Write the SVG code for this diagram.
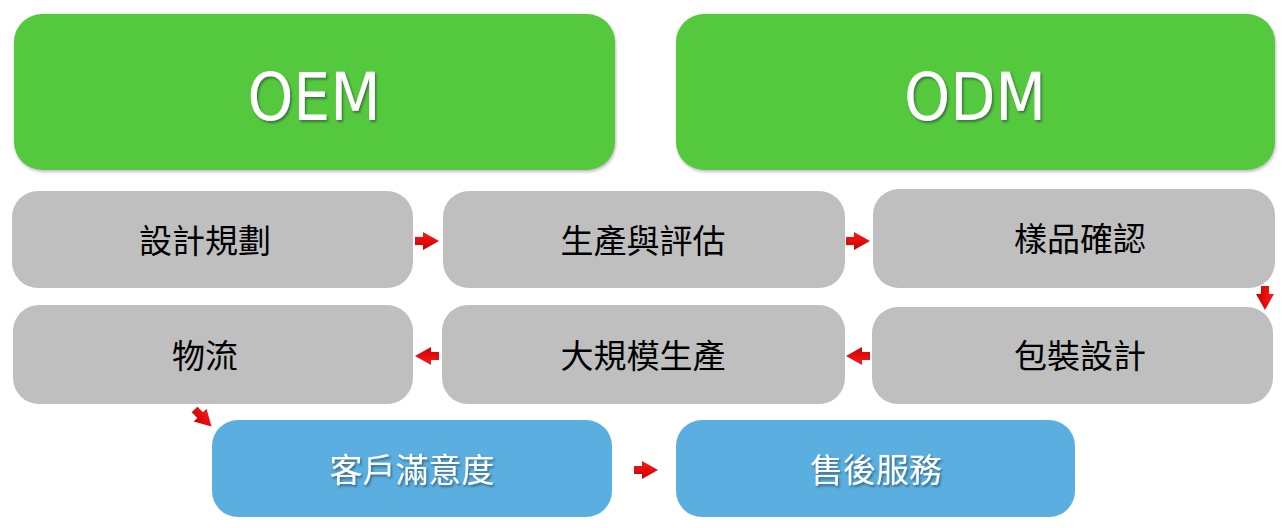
<svg xmlns="http://www.w3.org/2000/svg" width="1285" height="528" viewBox="0 0 1285 528">
<defs>
<filter id="sh" x="-5%" y="-10%" width="110%" height="125%"><feDropShadow dx="1" dy="2" stdDeviation="1.5" flood-color="#806080" flood-opacity="0.45"/></filter>
<filter id="tsh" x="-10%" y="-20%" width="120%" height="150%"><feDropShadow dx="1.5" dy="2" stdDeviation="1" flood-color="#203040" flood-opacity="0.55"/></filter>
<linearGradient id="rg" x1="0" y1="0" x2="0" y2="1"><stop offset="0" stop-color="#ff1a1a"/><stop offset="1" stop-color="#c80000"/></linearGradient>
<path id="arr" d="M-12,-4 L-4,-4 L-4,-9 L12,0 L-4,9 L-4,4 L-12,4 Z" fill="url(#rg)"/>
</defs>
<style>
.g{fill:#55c93d}
.gr{fill:#bfbfbf}
.b{fill:#5aafe0}
.big{font-family:"DejaVu Sans Condensed","DejaVu Sans",sans-serif;font-size:66px;fill:#fff;text-anchor:middle}
.t{font-family:"Noto Sans CJK TC","Noto Sans CJK SC",sans-serif;font-size:33px;fill:#000;text-anchor:middle;dominant-baseline:central}
.w{font-family:"Noto Sans CJK TC","Noto Sans CJK SC",sans-serif;font-size:33px;fill:#fff;text-anchor:middle;dominant-baseline:central}
</style>
<rect width="1285" height="528" fill="#fff"/>
<g id="oem"><rect class="g" x="14" y="14" width="601" height="156" rx="28" filter="url(#sh)"/><text class="big" x="314" y="120" textLength="133" lengthAdjust="spacingAndGlyphs" filter="url(#tsh)">OEM</text></g>
<g id="odm"><rect class="g" x="676" y="14" width="599" height="156" rx="28" filter="url(#sh)"/><text class="big" x="975" y="120" textLength="142" lengthAdjust="spacingAndGlyphs" filter="url(#tsh)">ODM</text></g>
<g id="n1"><rect class="gr" x="12" y="191" width="401" height="97" rx="26"/><text class="t" x="205" y="239">設計規劃</text></g>
<g id="n2"><rect class="gr" x="443" y="191" width="402" height="97" rx="26"/><text class="t" x="643" y="239">生產與評估</text></g>
<g id="n3"><rect class="gr" x="873" y="189" width="402" height="99" rx="26"/><text class="t" x="1080" y="237">樣品確認</text></g>
<g id="n4"><rect class="gr" x="872" y="307" width="401" height="97" rx="26"/><text class="t" x="1080" y="354">包裝設計</text></g>
<g id="n5"><rect class="gr" x="442" y="305" width="403" height="99" rx="26"/><text class="t" x="643" y="354">大規模生產</text></g>
<g id="n6"><rect class="gr" x="13" y="305" width="400" height="99" rx="26"/><text class="t" x="205" y="354">物流</text></g>
<g id="n7"><rect class="b" x="212" y="420" width="400" height="97" rx="26"/><text class="w" x="412" y="468" filter="url(#tsh)">客戶滿意度</text></g>
<g id="n8"><rect class="b" x="676" y="420" width="399" height="97" rx="26"/><text class="w" x="876" y="468" filter="url(#tsh)">售後服務</text></g>
<g id="connectors">
<use href="#arr" transform="translate(427,241)"/>
<use href="#arr" transform="translate(858,241)"/>
<use href="#arr" transform="translate(1265,298) rotate(90)"/>
<use href="#arr" transform="translate(858,356) rotate(180)"/>
<use href="#arr" transform="translate(427,356) rotate(180)"/>
<use href="#arr" transform="translate(203,418) rotate(45)"/>
<use href="#arr" transform="translate(646,470)"/>
</g>
</svg>
